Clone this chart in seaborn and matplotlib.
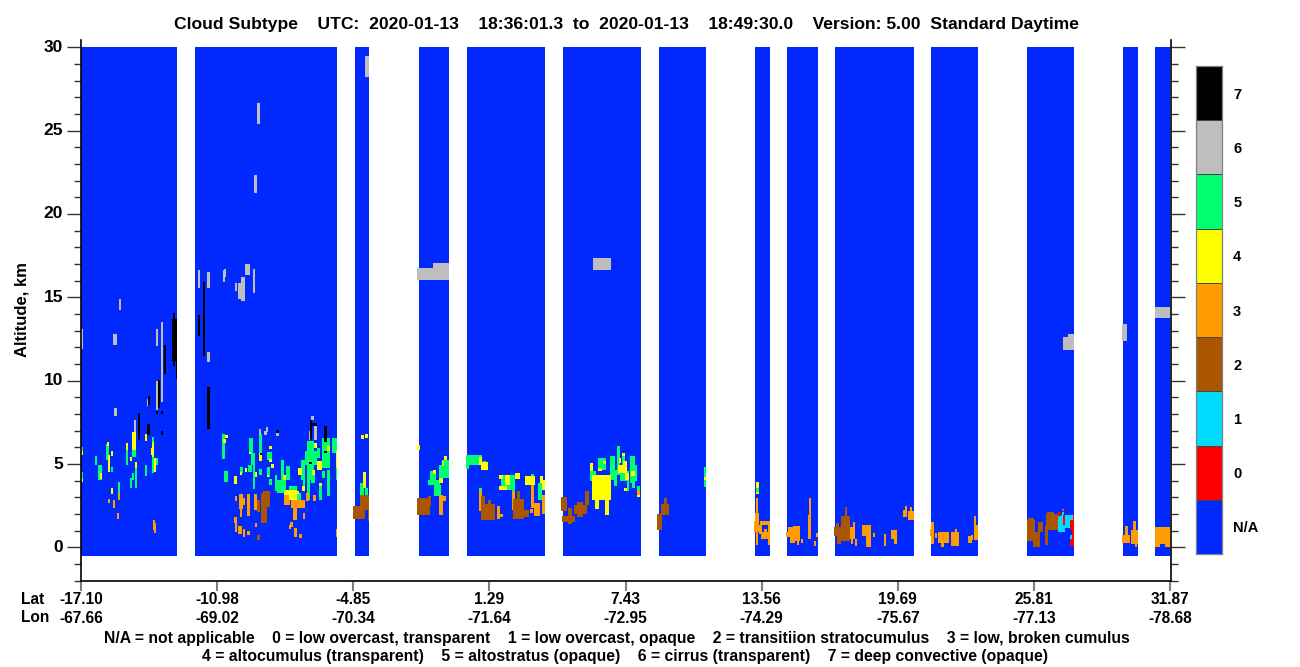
#!/usr/bin/python
'''
Cloud subtype curtain, drawn as a heatmap of profile number against altitude.
'''

import matplotlib.pyplot as plt
import numpy as np
import seaborn as sns
from matplotlib.colors import ListedColormap

title = ("Cloud Subtype    UTC:  2020-01-13    18:36:01.3  to  2020-01-13    "
         "18:49:30.0    Version: 5.00  Standard Daytime")
lat_labels = ['-17.10', '-10.98', '-4.85', '1.29', '7.43', '13.56', '19.69',
              '25.81', '31.87']
lon_labels = ['-67.66', '-69.02', '-70.34', '-71.64', '-72.95', '-74.29',
              '-75.67', '-77.13', '-78.68']
legend_line_1 = ("N/A = not applicable    0 = low overcast, transparent    "
                 "1 = low overcast, opaque    2 = transitiion stratocumulus    "
                 "3 = low, broken cumulus")
legend_line_2 = ("4 = altocumulus (transparent)    5 = altostratus (opaque)    "
                 "6 = cirrus (transparent)    7 = deep convective (opaque)")
subtype_labels = ['7', '6', '5', '4', '3', '2', '1', '0', 'N/A']
subtype_colors = ['#0028ff', '#ff0000', '#00dcff', '#aa5500', '#ff9d00',
                  '#ffff00', '#00ff6e', '#bebebe', '#000000']

# first and last profile of every stretch that has valid data
valid_profiles = [(0, 96), (114, 256), (274, 288), (338, 368), (386, 464),
                  (482, 560), (578, 625), (674, 689), (706, 737), (754, 833),
                  (850, 897), (946, 993), (1042, 1057), (1074, 1089)]

# every cloud below is (first profile, last profile, bottom km, top km)
altostratus = [
    (0, 2, 5.55, 6.0), (0, 2, 4.09, 4.55), (14, 16, 4.95, 5.49),
    (25, 28, 5.25, 6.21), (30, 32, 4.53, 4.83), (17, 21, 4.05, 4.95),
    (37, 39, 3.25, 3.93), (45, 47, 4.95, 6.25), (51, 55, 5.45, 6.45),
    (71, 73, 4.45, 6.61), (73, 77, 4.95, 5.35), (64, 66, 4.29, 4.95),
    (54, 56, 3.57, 4.75), (49, 51, 3.57, 4.15), (51, 53, 4.05, 4.45),
    (141, 144, 5.31, 6.81), (168, 172, 5.65, 6.55), (178, 181, 5.65, 6.81),
    (172, 174, 3.51, 5.65), (170, 173, 4.95, 5.65), (186, 191, 5.25, 5.75),
    (159, 162, 4.45, 4.83), (167, 171, 4.5, 4.95), (178, 181, 4.35, 4.7),
    (186, 189, 4.25, 4.83), (143, 147, 3.93, 4.6), (188, 191, 3.75, 4.1),
    (194, 196, 3.36, 4.36), (200, 203, 3.26, 5.26), (205, 209, 4.06, 4.86),
    (196, 205, 3.26, 4.06), (220, 224, 4.06, 5.26), (222, 224, 3.36, 4.06),
    (226, 233, 4.06, 6.36), (226, 229, 2.86, 4.06), (224, 236, 4.96, 5.76),
    (230, 234, 3.85, 4.4), (236, 239, 5.36, 5.96), (241, 244, 4.16, 4.56),
    (246, 249, 3.06, 4.66), (238, 241, 2.86, 3.86), (241, 249, 4.76, 6.56),
    (251, 256, 5.66, 6.56), (255, 256, 4.06, 5.06), (208, 216, 3.46, 3.66),
    (214, 220, 2.86, 3.26), (279, 283, 3.16, 3.86), (284, 287, 3.16, 3.56),
    (349, 355, 4.06, 4.6), (347, 359, 3.76, 4.06), (353, 360, 3.1, 3.76),
    (358, 368, 4.16, 4.96), (361, 368, 4.66, 5.26), (385, 401, 4.96, 5.56),
    (385, 388, 4.72, 4.96), (402, 405, 4.9, 5.2), (420, 431, 3.46, 4.36),
    (431, 434, 2.26, 4.36), (450, 453, 3.76, 4.42), (457, 461, 2.86, 3.86),
    (398, 401, 3.36, 3.58), (509, 512, 3.96, 4.56), (512, 515, 4.36, 4.56),
    (517, 525, 4.66, 5.36), (529, 534, 4.06, 5.46), (533, 536, 3.66, 4.66),
    (536, 539, 4.36, 6.06), (541, 544, 4.46, 5.66), (539, 548, 3.96, 4.56),
    (546, 548, 3.36, 3.96), (549, 554, 3.86, 5.46), (554, 556, 4.0, 4.96),
    (551, 554, 3.56, 3.86), (556, 559, 3.16, 3.66), (623, 625, 3.64, 4.84),
    (675, 678, 3.34, 3.58),
]
altocumulus = [
    (0, 2, 5.55, 5.8), (0, 2, 3.95, 4.09), (27, 29, 4.53, 5.55),
    (26, 28, 6.1, 6.3), (30, 32, 5.49, 5.79), (19, 21, 4.1, 4.45),
    (30, 32, 3.21, 3.57), (51, 55, 5.85, 6.95), (45, 47, 5.85, 6.25),
    (64, 66, 6.39, 6.81), (71, 73, 5.45, 6.35), (70, 72, 5.55, 5.95),
    (73, 75, 4.55, 5.35), (54, 56, 4.75, 5.13), (49, 51, 5.2, 5.45),
    (142, 145, 6.25, 6.5), (144, 147, 6.55, 6.75), (168, 170, 5.6, 5.75),
    (178, 181, 5.2, 5.65), (188, 191, 5.9, 6.1), (188, 191, 5.15, 5.3),
    (190, 193, 4.77, 5.0), (159, 161, 4.35, 4.55), (164, 166, 4.53, 4.77),
    (174, 176, 4.25, 4.55), (186, 188, 4.25, 4.35), (153, 156, 3.81, 4.29),
    (202, 205, 4.06, 4.36), (217, 221, 4.36, 4.76), (221, 224, 3.4, 3.7),
    (233, 236, 5.96, 6.26), (236, 241, 4.66, 5.16), (231, 234, 4.36, 4.66),
    (238, 241, 3.66, 3.86), (246, 249, 5.76, 6.06), (255, 256, 4.76, 5.76),
    (203, 208, 3.16, 3.46), (208, 216, 2.86, 3.46), (212, 218, 3.2, 3.4),
    (280, 283, 6.52, 6.76), (284, 287, 6.58, 6.82), (282, 285, 3.56, 4.54),
    (336, 339, 5.86, 6.16), (352, 355, 4.42, 4.66), (358, 362, 3.86, 4.16),
    (363, 366, 5.26, 5.5), (361, 363, 4.9, 5.2), (398, 401, 4.96, 5.44),
    (400, 407, 4.66, 5.14), (418, 426, 3.46, 3.7), (418, 422, 4.1, 4.36),
    (424, 429, 3.76, 4.36), (434, 439, 4.12, 4.48), (444, 454, 3.76, 4.26),
    (459, 462, 3.86, 4.3), (461, 464, 3.46, 4.06), (511, 530, 2.86, 4.36),
    (514, 518, 2.32, 2.86), (524, 528, 1.96, 2.86), (509, 512, 4.56, 5.06),
    (517, 521, 4.56, 4.76), (522, 525, 5.0, 5.2), (538, 540, 5.05, 5.35),
    (541, 544, 5.46, 5.66), (542, 546, 4.46, 5.16), (537, 543, 4.46, 4.96),
    (544, 548, 4.06, 4.46), (543, 546, 3.36, 3.56), (550, 554, 4.26, 4.56),
    (556, 559, 3.0, 3.16), (623, 625, 4.06, 4.2), (675, 678, 3.58, 3.94),
    (675, 678, 3.22, 3.34),
]
low_broken_cumulus = [
    (37, 39, 2.85, 3.25), (27, 29, 2.67, 2.91), (32, 34, 2.37, 2.85),
    (36, 38, 1.71, 2.07), (72, 74, 1.05, 1.65), (73, 75, 0.87, 1.45),
    (158, 162, 2.31, 3.21), (159, 161, 1.83, 2.31), (161, 164, 2.55, 2.97),
    (166, 169, 1.89, 3.21), (173, 176, 2.25, 3.21), (154, 156, 2.8, 3.05),
    (153, 156, 1.47, 1.83), (154, 156, 0.93, 1.47), (157, 161, 0.8, 1.3),
    (162, 164, 0.63, 1.1), (166, 169, 0.75, 1.0), (174, 176, 1.2, 1.45),
    (203, 209, 2.56, 3.16), (210, 224, 2.36, 2.86), (212, 216, 1.65, 2.36),
    (213, 216, 0.63, 1.15), (209, 212, 1.25, 1.5), (208, 210, 1.1, 1.35),
    (218, 221, 0.55, 0.8), (222, 224, 1.7, 2.05), (225, 228, 2.8, 3.25),
    (232, 235, 2.8, 3.16), (255, 256, 0.65, 1.1), (358, 362, 1.96, 3.16),
    (361, 365, 2.8, 3.1), (398, 401, 2.2, 3.36), (416, 419, 1.72, 2.5),
    (419, 422, 1.84, 2.02), (431, 434, 2.26, 3.36), (450, 453, 2.36, 3.76),
    (461, 464, 2.0, 3.16), (449, 452, 2.08, 2.32), (453, 459, 1.9, 2.68),
    (556, 559, 3.0, 3.46), (523, 524, 3.2, 3.4),
    (675, 677, 0.16, 2.98), (673, 678, 0.94, 1.6), (674, 678, 1.6, 2.06),
    (679, 689, 1.36, 1.6), (678, 681, 0.8, 1.36), (680, 689, 0.52, 0.94),
    (687, 689, 0.16, 1.36), (683, 686, 0.94, 1.1), (705, 709, 0.6, 0.9),
    (707, 712, 0.6, 1.2), (709, 714, 0.28, 0.76), (712, 719, 0.4, 1.26),
    (716, 718, 0.16, 0.4), (720, 722, 0.28, 0.52), (727, 730, 0.52, 1.96),
    (728, 730, 1.96, 2.98), (733, 735, 0.1, 0.4), (735, 737, 0.64, 0.88),
    (769, 774, 0.52, 1.24), (772, 774, 1.24, 1.54), (770, 772, 0.22, 0.52),
    (774, 776, 0.1, 0.52), (781, 790, 0.66, 1.36), (785, 790, 0.0, 0.66),
    (792, 794, 0.64, 0.88), (803, 805, 0.1, 0.82), (810, 816, 0.52, 1.06),
    (813, 816, 0.22, 0.52), (822, 826, 1.84, 2.26), (824, 826, 2.26, 2.5),
    (827, 833, 1.66, 2.2), (829, 831, 2.2, 2.44), (849, 853, 0.7, 1.12),
    (850, 853, 0.22, 1.54), (854, 856, 0.58, 0.88), (857, 868, 0.28, 0.94),
    (860, 863, 0.0, 0.28), (870, 878, 0.1, 0.94), (874, 876, 0.94, 1.12),
    (887, 891, 0.28, 0.7), (890, 892, 0.46, 0.76), (893, 897, 0.46, 1.36),
    (893, 895, 1.36, 1.9), (1041, 1049, 0.26, 0.76), (1044, 1047, 0.76, 1.3),
    (1050, 1057, 0.22, 1.06), (1052, 1055, 1.06, 1.6), (1054, 1056, 0.0, 0.22),
    (1074, 1089, 0.4, 1.24), (1074, 1079, 0.0, 0.4), (1079, 1089, 0.22, 0.4),
    (1084, 1089, 0.0, 0.2),
]
transition_stratocumulus = [
    (176, 179, 2.13, 2.85), (180, 182, 2.45, 3.25), (180, 186, 1.45, 2.45),
    (182, 189, 2.45, 3.39), (176, 179, 0.45, 0.75), (272, 284, 1.72, 2.5),
    (279, 288, 2.26, 3.16), (287, 288, 1.56, 2.26), (336, 349, 1.96, 2.96),
    (347, 350, 2.5, 3.1), (400, 404, 1.66, 3.1), (400, 414, 1.66, 2.26),
    (404, 414, 1.66, 2.62), (407, 410, 2.62, 2.86), (432, 443, 1.72, 2.92),
    (436, 439, 2.92, 3.4), (442, 448, 1.84, 2.26), (480, 486, 2.2, 3.04),
    (481, 494, 1.54, 1.9), (487, 491, 1.42, 2.38), (493, 506, 2.02, 2.56),
    (496, 502, 1.84, 2.74), (504, 508, 2.56, 3.4), (576, 581, 1.06, 2.02),
    (580, 588, 1.96, 2.62), (583, 586, 2.62, 2.98), (753, 769, 0.7, 1.24),
    (756, 760, 0.22, 0.7), (760, 769, 0.4, 1.9), (764, 766, 1.9, 2.44),
    (755, 758, 1.24, 1.48), (946, 954, 0.4, 1.66), (947, 953, 1.66, 1.78),
    (952, 959, 0.04, 0.94), (957, 962, 0.94, 1.54), (964, 967, 0.16, 1.3),
    (965, 977, 1.06, 2.02), (966, 973, 2.02, 2.14),
]
low_overcast_opaque = [
    (977, 984, 0.94, 1.9), (980, 993, 1.16, 1.96), (981, 983, 1.96, 2.32),
    (989, 991, 0.52, 0.76), (992, 993, 0.76, 1.06),
]
low_overcast_transparent = [
    (977, 980, 1.9, 2.14), (981, 983, 2.14, 2.26), (982, 984, 1.36, 1.96),
    (989, 993, 1.06, 1.66), (989, 993, 0.06, 0.52), (991, 993, 0.52, 1.06),
    (992, 993, 1.66, 2.0),
]
cirrus = [
    (0, 2, 11.93, 13.09), (38, 40, 14.25, 14.91), (32, 36, 12.15, 12.81),
    (75, 77, 12.09, 13.09), (80, 82, 8.73, 13.53), (75, 77, 8.25, 10.0),
    (66, 67, 8.5, 8.9), (33, 36, 7.89, 8.37), (53, 55, 6.95, 7.65),
    (117, 119, 15.57, 16.65), (126, 129, 15.57, 16.53), (126, 129, 11.13, 11.73),
    (142, 144, 15.93, 16.65), (143, 145, 16.23, 16.71), (154, 156, 15.39, 15.87),
    (157, 160, 14.91, 15.87), (160, 164, 14.79, 16.23), (164, 169, 16.35, 17.01),
    (172, 174, 15.27, 16.71), (176, 179, 25.4, 26.66), (173, 176, 21.26, 22.34),
    (195, 198, 6.7, 6.85), (178, 180, 6.75, 7.1), (183, 186, 6.75, 7.0),
    (185, 187, 6.95, 7.2), (228, 230, 6.45, 7.0), (230, 233, 7.65, 7.89),
    (233, 236, 6.46, 7.36), (284, 288, 28.22, 29.48), (336, 368, 16.05, 16.77),
    (352, 368, 16.77, 17.07), (512, 530, 16.65, 17.37), (982, 993, 11.85, 12.63),
    (987, 993, 12.63, 12.81), (1041, 1046, 12.39, 13.41), (1074, 1089, 13.77, 14.43),
]
deep_convective = [
    (91, 95, 11.19, 13.71), (92, 94, 10.89, 14.07), (95, 96, 10.1, 13.7),
    (83, 85, 10.41, 12.15), (77, 79, 8.35, 10.05), (67, 69, 8.55, 9.09),
    (75, 77, 8.0, 8.2), (80, 82, 8.0, 8.2), (57, 59, 6.45, 8.05),
    (66, 69, 6.75, 7.41), (80, 82, 6.75, 7.0), (117, 119, 12.69, 13.95),
    (122, 124, 11.49, 15.95), (126, 129, 7.11, 9.63), (195, 198, 6.85, 7.05),
    (229, 231, 6.46, 7.65), (231, 236, 7.29, 7.45), (243, 246, 6.33, 7.29),
    (243, 246, 5.65, 5.78), (228, 231, 5.02, 5.14), (179, 181, 5.55, 5.68),
]

# paint order, so that thin layers stay on top of the thick ones
cloud_layers = [(5, altostratus), (3, low_broken_cumulus), (4, altocumulus),
                (2, transition_stratocumulus), (6, cirrus), (7, deep_convective),
                (1, low_overcast_opaque), (0, low_overcast_transparent)]

N_PROFILES = 1090
N_BINS = 541
KM_PER_BIN = 0.06
TOP_KM = 30.44


def km_to_bin(km):
    return (TOP_KM - km) / KM_PER_BIN


def build_grid():
    grid = np.full((N_BINS, N_PROFILES), np.nan)
    top = int(round(km_to_bin(30)))
    bottom = int(round(km_to_bin(-0.5)))
    for first, last in valid_profiles:
        grid[top:bottom, first:last] = -1
    for subtype, clouds in cloud_layers:
        for first, last, low, high in clouds:
            grid[int(round(km_to_bin(high))):int(round(km_to_bin(low))),
                 first:last] = subtype
    return grid


def main():
    sns.set_theme(style="ticks")
    plt.rcParams['font.family'] = ['Liberation Sans', 'DejaVu Sans']
    plt.rcParams['font.weight'] = 'bold'

    cmap = ListedColormap(subtype_colors)
    fig = plt.figure(figsize=(13, 6.67), dpi=100)
    ax = fig.add_axes([81 / 1300, 1 - 581 / 667, 1090 / 1300, 541 / 667])
    sns.heatmap(build_grid(), ax=ax, cmap=cmap, vmin=-1.5, vmax=7.5, cbar=False)

    ax.set_yticks([km_to_bin(km) for km in range(0, 31, 5)])
    ax.set_yticklabels([str(km) for km in range(0, 31, 5)], rotation=0,
                       fontsize=12.5, color='black')
    ax.set_yticks([km_to_bin(km) for km in range(-2, 31)], minor=True)
    ax.tick_params(axis='y', which='major', length=10, width=1, right=True,
                   pad=3, color='#333333')
    ax.tick_params(axis='y', which='minor', length=5, width=1, right=True,
                   color='#333333')

    ax.set_xticks(np.linspace(0, N_PROFILES - 1, len(lat_labels)))
    ax.set_xticklabels([lat + '\n' + lon for lat, lon in zip(lat_labels, lon_labels)],
                       rotation=0, fontsize=11.2, color='black', linespacing=1.33)
    ax.tick_params(axis='x', length=7, width=1.5, color='#808080', pad=1)

    for side in ['left', 'right', 'bottom']:
        ax.spines[side].set_visible(True)
        ax.spines[side].set_color('black')
        ax.spines[side].set_linewidth(1.2)
    ax.spines['top'].set_visible(False)

    fig.text(22 / 1300, 1 - 310 / 667, "Altitude, km", rotation=90, ha='center',
             va='center', fontsize=12, color='black')
    fig.text(626 / 1300, 1 - 24 / 667, title, ha='center', va='center',
             fontsize=12.6, color='black')
    fig.text(21 / 1300, 1 - 599 / 667, "Lat", ha='left', va='center',
             fontsize=11.2, color='black')
    fig.text(21 / 1300, 1 - 618 / 667, "Lon", ha='left', va='center',
             fontsize=11.2, color='black')
    fig.text(617 / 1300, 1 - 638 / 667, legend_line_1, ha='center', va='center',
             fontsize=11.37, color='black')
    fig.text(625 / 1300, 1 - 657 / 667, legend_line_2, ha='center', va='center',
             fontsize=11.37, color='black')

    # colour key: one column of nine cells
    key_ax = fig.add_axes([1196 / 1300, 1 - 554 / 667, 26 / 1300, 488 / 667])
    key_values = np.arange(7, -2, -1).reshape(-1, 1)
    sns.heatmap(key_values, ax=key_ax, cmap=cmap, vmin=-1.5, vmax=7.5, cbar=False,
                linewidths=0.4, linecolor='#444444', xticklabels=False)
    key_ax.yaxis.tick_right()
    key_ax.set_yticks(np.arange(len(subtype_labels)) + 0.5)
    key_ax.set_yticklabels(subtype_labels, rotation=0, fontsize=10.5, color='black')
    key_ax.tick_params(axis='y', length=0, pad=8)
    for label in key_ax.get_yticklabels():
        label.set_horizontalalignment('left')
    for spine in key_ax.spines.values():
        spine.set_visible(True)
        spine.set_color('#808080')
        spine.set_linewidth(0.9)

    fig.savefig('out.png', dpi=100)
    plt.close(fig)


if __name__ == "__main__":
    main()
